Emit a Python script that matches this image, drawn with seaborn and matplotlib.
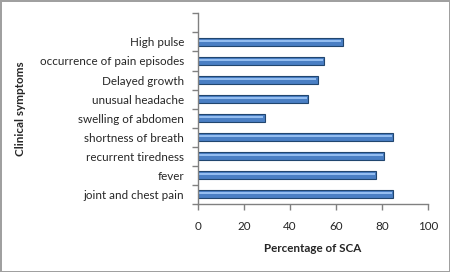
"""
Clinical symptoms of SCA - horizontal bar chart
"""
import matplotlib
matplotlib.use("Agg")
import matplotlib.pyplot as plt
import seaborn as sns
import pandas as pd
import numpy as np

# ── data (top to bottom as in the chart)
symptoms = ["High pulse", "occurrence of pain episodes", "Delayed growth",
            "unusual headache", "swelling of abdomen", "shortness of breath",
            "recurrent tiredness", "fever", "joint and chest pain"]
percent  = [63, 55, 52, 48, 29, 85, 81, 77.5, 85]
xticks   = [0, 20, 40, 60, 80, 100]

df = pd.DataFrame({"symptom": symptoms, "pct": percent})

sns.set_style("white")
plt.rcParams["font.family"] = ["Lato", "DejaVu Sans"]
FS = 8.4

fig = plt.figure(figsize=(4.5, 2.72), dpi=100)
fig.patch.set_edgecolor("#a0a0a0")
fig.patch.set_linewidth(2)
ax = fig.add_axes([0.44, 0.25, 0.511, 0.701])

# main bar + lighter highlight stripe on top
sns.barplot(data=df, x="pct", y="symptom", order=symptoms, ax=ax,
            color="#4a7fc4", edgecolor="#21466f", linewidth=0.8,
            width=0.42, saturation=1)
sns.barplot(data=df, x="pct", y="symptom", order=symptoms, ax=ax,
            color="#93bdf0", linewidth=0, width=0.12, saturation=1)
for p in ax.patches[len(symptoms):]:
    p.set_y(p.get_y() - 0.06)
    p.set_x(p.get_x() + 0.5)
    p.set_width(max(p.get_width() - 1.2, 0))

ax.set_xlim(0, 100)
ax.set_ylim(len(symptoms) - 0.5, -1.5)
ax.set_xticks(xticks)
ax.set_xticklabels([str(t) for t in xticks], fontsize=FS)

# category labels on minor ticks, tick marks at boundaries
ax.set_yticks(np.arange(-1.5, len(symptoms), 1.0))
ax.set_yticklabels([])
ax.set_yticks(np.arange(len(symptoms)), minor=True)
ax.set_yticklabels(symptoms, minor=True, fontsize=FS)
ax.tick_params(axis="y", which="minor", length=0, pad=10)
ax.tick_params(axis="y", which="major", length=4, width=1, color="#808080", direction="out", left=True)
ax.tick_params(axis="x", length=4, width=1, color="#808080", direction="out", bottom=True, pad=8)

for s in ["top", "right"]:
    ax.spines[s].set_visible(False)
for s in ["left", "bottom"]:
    ax.spines[s].set_color("#808080")
    ax.spines[s].set_linewidth(1)

ax.set_xlabel("Percentage of SCA", fontsize=FS, fontweight="bold", labelpad=8)
ax.set_ylabel("Clinical symptoms", fontsize=FS, fontweight="bold")
ax.yaxis.set_label_coords(-0.75, 0.5)

fig.savefig("out.png", dpi=100)
